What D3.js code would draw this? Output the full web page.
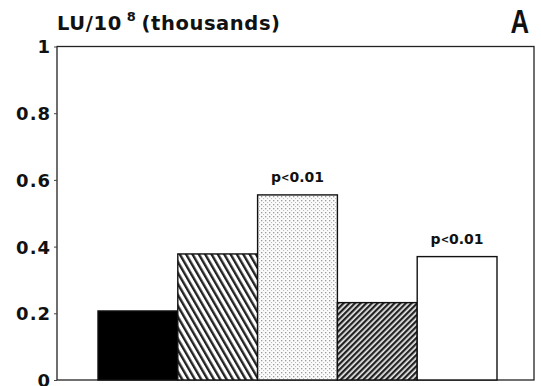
<!DOCTYPE html>
<html>
<head>
<meta charset="utf-8">
<script src="https://cdn.jsdelivr.net/npm/d3@7"></script>
<style>
  body { margin: 0; background: #fff; }
  svg { display: block; }
  text { font-family: "DejaVu Sans", "Liberation Sans", sans-serif; font-weight: bold; fill: #111; }
</style>
</head>
<body>
<script>
// groups, left to right
const groups = ["g1", "g2", "g3", "g4", "g5"];
const values = [0.207, 0.378, 0.555, 0.232, 0.37];
const fills = ["solid", "hatchBack", "dots", "hatchFwd", "white"];
const notes = ["", "", "p<0.01", "", "p<0.01"];
const yTicks = [0, 0.2, 0.4, 0.6, 0.8, 1];

const width = 541, height = 386;
const m = { left: 57, top: 46.5 };

const svg = d3.select("body").append("svg")
    .attr("width", width)
    .attr("height", height);

const defs = svg.append("defs");

// "\\\\" hatching
const pb = defs.append("pattern")
    .attr("id", "hatchBack")
    .attr("patternUnits", "userSpaceOnUse")
    .attr("width", 5.5).attr("height", 5.5)
    .attr("patternTransform", "rotate(-30)");
pb.append("rect").attr("width", 5.5).attr("height", 5.5).attr("fill", "#fff");
pb.append("rect").attr("width", 2.4).attr("height", 5.5).attr("fill", "#222");

// "////" hatching, denser
const pf = defs.append("pattern")
    .attr("id", "hatchFwd")
    .attr("patternUnits", "userSpaceOnUse")
    .attr("width", 4).attr("height", 4)
    .attr("patternTransform", "rotate(45)");
pf.append("rect").attr("width", 4).attr("height", 4).attr("fill", "#eee");
pf.append("rect").attr("width", 2.3).attr("height", 4).attr("fill", "#222");

// stipple
const pd = defs.append("pattern")
    .attr("id", "dots")
    .attr("patternUnits", "userSpaceOnUse")
    .attr("width", 4).attr("height", 4);
pd.append("rect").attr("width", 4).attr("height", 4).attr("fill", "#fbfbfb");
pd.append("rect").attr("x", 0).attr("y", 0).attr("width", 1.3).attr("height", 1.3).attr("fill", "#999");
pd.append("rect").attr("x", 2).attr("y", 2).attr("width", 1.1).attr("height", 1.1).attr("fill", "#bbb");

const fillOf = f => f === "solid" ? "#000" : f === "white" ? "#fff" : `url(#${f})`;

const plotW = 534 - m.left;
const y = d3.scaleLinear().domain([0, 1]).range([380, m.top]);
const x = d3.scaleBand()
    .domain(groups)
    .range([98 - m.left, 497 - m.left])
    .paddingInner(0);

const g = svg.append("g").attr("transform", `translate(${m.left},0)`);

// frame
g.append("rect")
    .attr("x", 0).attr("y", y(1))
    .attr("width", plotW).attr("height", y(0) - y(1))
    .attr("fill", "none").attr("stroke", "#222").attr("stroke-width", 1.3);

// bars
g.selectAll("rect.bar")
    .data(values)
    .enter().append("rect")
    .attr("class", "bar")
    .attr("x", (d, i) => x(groups[i]))
    .attr("y", d => y(d))
    .attr("width", x.bandwidth())
    .attr("height", d => y(0) - y(d))
    .attr("fill", (d, i) => fillOf(fills[i]))
    .attr("stroke", "#111")
    .attr("stroke-width", 1.4);

// significance notes
const noteData = values.map((v, i) => ({ v, i, s: notes[i] })).filter(d => d.s);
const note = g.selectAll("text.note")
    .data(noteData)
    .enter().append("text")
    .attr("class", "note")
    .attr("x", d => x(groups[d.i]) + x.bandwidth() / 2)
    .attr("y", d => y(d.v) - 13)
    .attr("text-anchor", "middle")
    .style("font-size", "14px");
note.append("tspan").text(d => d.s[0]);
note.append("tspan").style("font-size", "10px").attr("dy", -1).text(d => d.s[1]);
note.append("tspan").attr("dy", 1).text(d => d.s.slice(2));

// y axis
const axis = d3.axisLeft(y)
    .tickValues(yTicks)
    .tickSize(3)
    .tickFormat(d => d === 0 || d === 1 ? d3.format("d")(d) : d3.format(".1f")(d));
const ax = g.append("g").call(axis);
ax.select(".domain").remove();
ax.selectAll("line").attr("stroke", "#444");
ax.selectAll("text")
    .attr("x", -6)
    .attr("dy", "0.36em")
    .style("font-size", "18px")
    .style("letter-spacing", "1px")
    .style("font-family", "'DejaVu Sans', sans-serif")
    .style("font-weight", "bold")
    .attr("fill", "#111");

// y title with superscript
const title = svg.append("text")
    .attr("x", 57).attr("y", 30)
    .style("font-size", "19.5px")
    .style("letter-spacing", "0.6px");
title.append("tspan").text("LU/10");
title.append("tspan").attr("dx", 5).attr("dy", -9).style("font-size", "13px").text("8");
title.append("tspan").attr("dx", 5).attr("dy", 9).text("(thousands)");

// panel letter
svg.append("text")
    .attr("transform", "translate(529,33) scale(0.78,1)")
    .attr("text-anchor", "end")
    .style("font-size", "33px")
    .style("font-family", "'Liberation Sans', sans-serif")
    .text("A");
</script>
</body>
</html>
